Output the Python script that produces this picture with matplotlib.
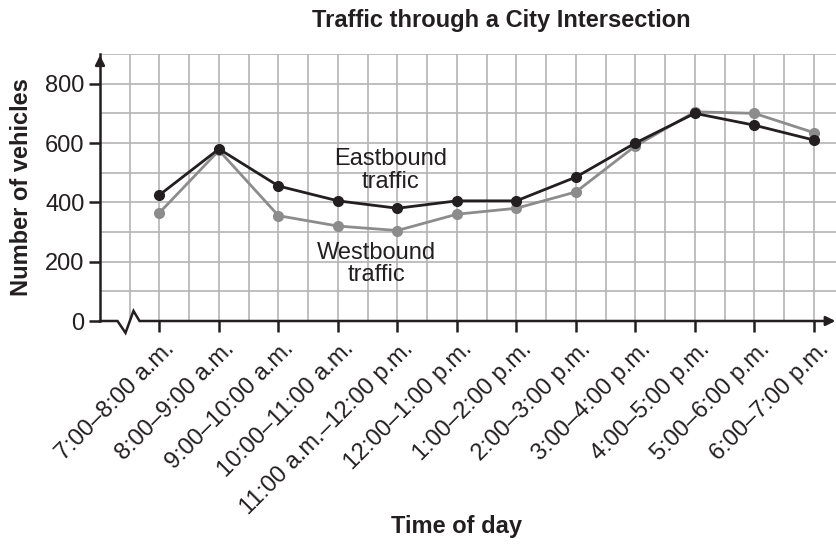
import matplotlib
matplotlib.use("Agg")
import matplotlib.pyplot as plt
import matplotlib.transforms as mtransforms

plt.rcParams['font.family'] = ['Liberation Sans', 'DejaVu Sans']

categories = ["7:00–8:00 a.m.", "8:00–9:00 a.m.", "9:00–10:00 a.m.", "10:00–11:00 a.m.",
              "11:00 a.m.–12:00 p.m.", "12:00–1:00 p.m.", "1:00–2:00 p.m.", "2:00–3:00 p.m.",
              "3:00–4:00 p.m.", "4:00–5:00 p.m.", "5:00–6:00 p.m.", "6:00–7:00 p.m."]
eastbound = [425, 580, 455, 405, 380, 405, 405, 485, 600, 700, 660, 610]
westbound = [365, 575, 355, 320, 305, 360, 380, 435, 590, 705, 700, 635]
yticks = [0, 200, 400, 600, 800]

BLACK = "#231f20"
GRAY = "#8c8c8c"
GRID = "#b4b4b4"

fig = plt.figure(figsize=(8.37, 5.44), dpi=100)
ax = fig.add_axes([100/837, 223/544, 737/837, 267/544])
x = list(range(len(categories)))
xmin, xmax = -1, 11.39
ax.set_xlim(xmin, xmax)
ax.set_ylim(0, 900)

# grid
for k in range(1, 25):
    gx = xmin + 0.5*k
    ax.axvline(gx, color=GRID, lw=1.2, zorder=0)
for gy in range(100, 901, 100):
    ax.axhline(gy, color=GRID, lw=1.2, zorder=0)

for s in ['top', 'right', 'bottom']:
    ax.spines[s].set_visible(False)
ax.spines['left'].set_color(BLACK)
ax.spines['left'].set_linewidth(1.8)

# x axis with break
ax.plot([xmin, -0.706, -0.571, -0.437, -0.336, xmax - 0.1], [0, 0, -40, 34, 0, 0],
        color=BLACK, lw=1.8, clip_on=False, zorder=3, solid_joinstyle='miter')
ax.annotate("", xy=(xmax + 0.02, 0), xytext=(xmax - 0.2, 0),
            arrowprops=dict(arrowstyle="-|>", color=BLACK, lw=1.8, mutation_scale=14),
            annotation_clip=False)
ax.annotate("", xy=(xmin, 905), xytext=(xmin, 860),
            arrowprops=dict(arrowstyle="-|>", color=BLACK, lw=1.8, mutation_scale=14),
            annotation_clip=False)

ax.plot(x, westbound, color=GRAY, lw=2, marker='o', ms=7, zorder=4, clip_on=False)
ax.plot(x, eastbound, color=BLACK, lw=2, marker='o', ms=7, zorder=5, clip_on=False)

ax.set_yticks(yticks)
ax.set_yticklabels([str(v) for v in yticks], fontsize=17, color=BLACK)
ax.tick_params(axis='y', length=8, width=1.8, color=BLACK, pad=3)
ax.set_xticks(x)
ax.set_xticklabels(categories, rotation=45, ha='right', va='top',
                   rotation_mode='anchor', fontsize=17, color=BLACK)
ax.tick_params(axis='x', length=8, width=1.8, color=BLACK, pad=4)
offset = mtransforms.ScaledTranslation(3/72, 0, fig.dpi_scale_trans)
for lbl in ax.get_xticklabels():
    lbl.set_transform(lbl.get_transform() + offset)

ax.text(3.88, 506, "Eastbound\ntraffic", ha='center', va='center', fontsize=17,
        color=BLACK, linespacing=1.05)
ax.text(3.65, 192, "Westbound\ntraffic", ha='center', va='center', fontsize=17,
        color=BLACK, linespacing=1.05)

fig.text(501/837, 1 - 20/544, "Traffic through a City Intersection", ha='center',
         va='center', fontsize=17, fontweight='bold', color=BLACK)
fig.text(457/837, 1 - 527/544, "Time of day", ha='center', va='center',
         fontsize=17, fontweight='bold', color=BLACK)
fig.text(22/837, 1 - 187/544, "Number of vehicles", ha='center', va='center',
         rotation=90, fontsize=17, fontweight='bold', color=BLACK)

fig.savefig("out.png", dpi=100)
